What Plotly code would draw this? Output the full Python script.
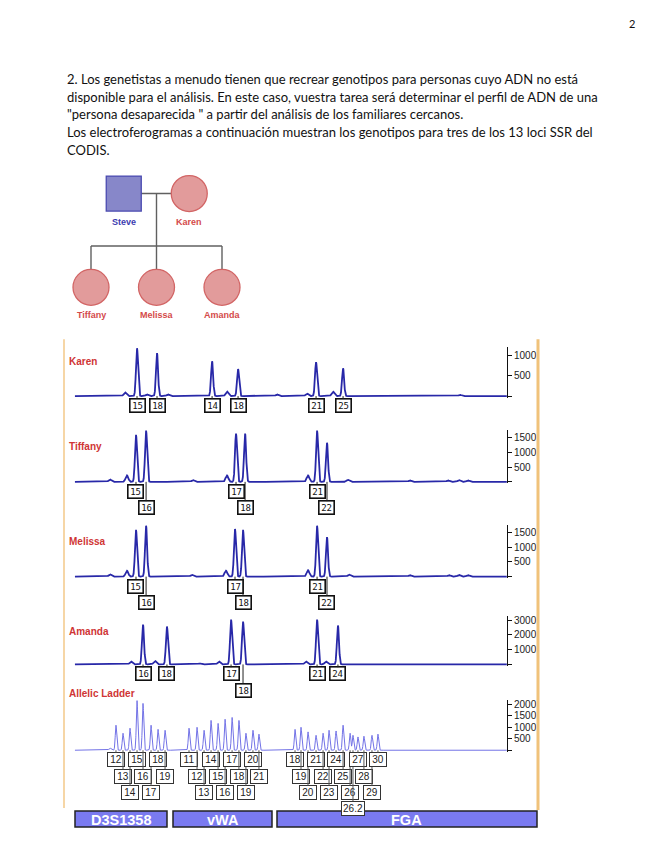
import numpy as np
import plotly.graph_objects as go

W, H = 655, 848

# ------------------------------------------------------------------ data
PAGE_NUMBER = "2"
PARAGRAPH = [
    "2. Los genetistas a menudo tienen que recrear genotipos para personas cuyo ADN no está",
    "disponible para el análisis. En este caso, vuestra tarea será determinar el perfil de ADN de una",
    "\"persona desaparecida \" a partir del análisis de los familiares cercanos.",
    "Los electroferogramas a continuación muestran los genotipos para tres de los 13 loci SSR del",
    "CODIS.",
]

PED_NAMES = ["Steve", "Karen", "Tiffany", "Melissa", "Amanda"]
PED_SEX = ["M", "F", "F", "F", "F"]
PED_GENERATION = [0, 0, 1, 1, 1]
PED_ORDER = [0.5, 1.5, 0.0, 1.0, 2.0]

LOCI = ["D3S1358", "vWA", "FGA"]

KAREN_ALLELES = ["15", "18", "14", "18", "21", "25"]
KAREN_SIZE_BP = [122.7, 134.4, 166.6, 181.8, 227.4, 243.2]
KAREN_RFU = [1170, 1050, 850, 660, 830, 680]
KAREN_MINOR_BP = [115.7, 128.5, 140.8, 175.3, 204.6, 222.1, 237.3, 311.6]
KAREN_MINOR_RFU = [90, 40, 40, 110, 40, 60, 110, 30]
KAREN_TICKS = [500, 1000]

TIFFANY_ALLELES = ["15", "16", "17", "18", "21", "22"]
TIFFANY_SIZE_BP = [122.1, 128.0, 180.6, 185.9, 228.0, 233.8]
TIFFANY_RFU = [1600, 1740, 1640, 1640, 1740, 1330]
TIFFANY_MINOR_BP = [106.9, 116.8, 155.4, 175.3, 222.7, 246.1, 282.3, 304.6, 311.0, 316.3]
TIFFANY_MINOR_RFU = [80, 220, 60, 220, 220, 70, 50, 50, 60, 50]
TIFFANY_TICKS = [500, 1000, 1500]

MELISSA_ALLELES = ["15", "16", "17", "18", "21", "22"]
MELISSA_SIZE_BP = [122.1, 128.0, 180.0, 184.7, 228.0, 233.8]
MELISSA_RFU = [1590, 1730, 1620, 1590, 1730, 1345]
MELISSA_MINOR_BP = [106.9, 116.8, 154.8, 174.7, 222.7, 246.7, 282.3, 305.2, 311.0, 316.3]
MELISSA_MINOR_RFU = [80, 200, 60, 200, 220, 70, 50, 50, 60, 50]
MELISSA_TICKS = [500, 1000, 1500]

AMANDA_ALLELES = ["16", "18", "17", "18", "21", "24"]
AMANDA_SIZE_BP = [126.2, 140.2, 177.7, 184.7, 228.0, 240.2]
AMANDA_RFU = [2700, 2570, 3040, 2900, 3040, 2640]
AMANDA_MINOR_BP = [119.2, 133.2, 159.5, 170.6, 221.5, 233.2]
AMANDA_MINOR_RFU = [200, 240, 70, 200, 200, 200]
AMANDA_TICKS = [1000, 2000, 3000]

LADDER_D3S1358_ALLELES = ["12", "13", "14", "15", "16", "17", "18", "19"]
LADDER_D3S1358_BP = [110.4, 114.5, 118.6, 122.7, 126.2, 130.9, 135.0, 139.1]
LADDER_D3S1358_RFU = [1090, 740, 960, 2170, 2040, 1090, 910, 870]

LADDER_VWA_ALLELES = ["11", "12", "13", "14", "15", "16", "17", "18", "19", "20", "21"]
LADDER_VWA_BP = [153.1, 157.8, 161.9, 166.0, 170.1, 174.2, 178.3, 182.3, 186.4, 190.5, 194.0]
LADDER_VWA_RFU = [960, 1000, 870, 1300, 1170, 1350, 1430, 1300, 740, 870, 700]

LADDER_FGA_ALLELES = ["18", "19", "20", "21", "22", "23", "24", "25", "26", "26.2",
                      "27", "28", "29", "30"]
LADDER_FGA_BP = [215.1, 218.6, 222.7, 227.4, 231.5, 235.0, 239.1, 243.2, 247.3, 249.0,
                 251.9, 255.4, 260.1, 263.6]
LADDER_FGA_RFU = [910, 1000, 800, 650, 740, 870, 840, 1090, 740, 650, 580, 610, 650, 700]

LADDER_MINOR_BP = [106.9, 282.3]
LADDER_MINOR_RFU = [90, 30]
LADDER_TICKS = [500, 1000, 1500, 2000]

# ------------------------------------------------------------------ helpers
FONT_TXT = "Lato"
FONT_SANS = "Liberation Sans"
RED = "#cf3535"

def py(px):
    return 1 - px / H

def px_x(px):
    return px / W

fig = go.Figure()
annotations = []
shapes = []

# page number + paragraph
annotations.append(dict(text=PAGE_NUMBER, x=px_x(632), y=py(22), xref="paper", yref="paper",
                        showarrow=False, xanchor="center", yanchor="middle",
                        font=dict(family=FONT_TXT, size=11, color="#111")))
line_y = [77, 95, 112, 130, 148]
for t, yy in zip(PARAGRAPH, line_y):
    annotations.append(dict(text=t, x=px_x(65), y=py(yy), xref="paper", yref="paper",
                            showarrow=False, xanchor="left", yanchor="middle",
                            font=dict(family=FONT_TXT, size=13, color="#111")))

# ------------------------------------------------------------------ pedigree
PX, PY = "x6", "y6"
fig.update_layout(
    xaxis6=dict(domain=[58.25 / W, 254.75 / W], range=[-0.5, 2.5], visible=False, anchor="y6"),
    yaxis6=dict(domain=[py(333), py(145)], range=[-0.5, 1.5], visible=False, anchor="x6"),
)
gen_y = [1 - g for g in PED_GENERATION]
parents = [i for i, g in enumerate(PED_GENERATION) if g == 0]
kids = [i for i, g in enumerate(PED_GENERATION) if g == 1]
bar_y = 0.44
mid = sum(PED_ORDER[i] for i in parents) / len(parents)
lx, ly = [], []
lx += [PED_ORDER[parents[0]], PED_ORDER[parents[1]], None]
ly += [1, 1, None]
lx += [mid, mid, None]
ly += [1, bar_y, None]
lx += [min(PED_ORDER[i] for i in kids), max(PED_ORDER[i] for i in kids), None]
ly += [bar_y, bar_y, None]
for i in kids:
    lx += [PED_ORDER[i], PED_ORDER[i], None]
    ly += [bar_y, 0, None]
fig.add_trace(go.Scatter(x=lx, y=ly, mode="lines", line=dict(color="#606060", width=1.4),
                         xaxis=PX, yaxis=PY, hoverinfo="skip", showlegend=False))
for i, name in enumerate(PED_NAMES):
    male = PED_SEX[i] == "M"
    fig.add_trace(go.Scatter(
        x=[PED_ORDER[i]], y=[gen_y[i]], mode="markers", xaxis=PX, yaxis=PY,
        hoverinfo="skip", showlegend=False,
        marker=dict(symbol="square" if male else "circle", size=35 if male else 36,
                    color="#8787c9" if male else "#e29b9b",
                    line=dict(color="#4a4ab0" if male else "#d26565", width=1.3))))
    annotations.append(dict(text="<b>%s</b>" % name, x=PED_ORDER[i], y=gen_y[i] - 0.30,
                            xref=PX, yref=PY, showarrow=False,
                            font=dict(family=FONT_SANS, size=9,
                                      color="#3c3cb0" if male else "#d44a4a")))

# ------------------------------------------------------------------ electropherograms
X_DOMAIN = [64 / W, 507 / W]
X_RANGE = [80.0, 339.07]
GRID = np.arange(86.4, 339.0, 0.04)

def curve(bp, rfu, sigma):
    y = np.zeros_like(GRID)
    for s, h in zip(bp, rfu):
        y += h * np.exp(-0.5 * ((GRID - s) / sigma) ** 2)
    return y

def sample_rows(bp):
    rows = []
    for k, s in enumerate(bp):
        if k > 0 and s - bp[k - 1] < 9 and rows[-1] == 0:
            rows.append(1)
        else:
            rows.append(0)
    return rows

def ladder_rows(alleles):
    rows, k = [], 0
    for a in alleles:
        if "." in a:
            rows.append(3)
        else:
            rows.append(k % 3)
            k += 1
    return rows

ladder_alleles = LADDER_D3S1358_ALLELES + LADDER_VWA_ALLELES + LADDER_FGA_ALLELES
ladder_bp = LADDER_D3S1358_BP + LADDER_VWA_BP + LADDER_FGA_BP
ladder_rfu = LADDER_D3S1358_RFU + LADDER_VWA_RFU + LADDER_FGA_RFU
ladder_row = (ladder_rows(LADDER_D3S1358_ALLELES) + ladder_rows(LADDER_VWA_ALLELES)
              + ladder_rows(LADDER_FGA_ALLELES))

panels = [
    dict(name="Karen", al=KAREN_ALLELES, bp=KAREN_SIZE_BP, rfu=KAREN_RFU,
         mbp=KAREN_MINOR_BP, mrfu=KAREN_MINOR_RFU, ticks=KAREN_TICKS, ladder=False),
    dict(name="Tiffany", al=TIFFANY_ALLELES, bp=TIFFANY_SIZE_BP, rfu=TIFFANY_RFU,
         mbp=TIFFANY_MINOR_BP, mrfu=TIFFANY_MINOR_RFU, ticks=TIFFANY_TICKS, ladder=False),
    dict(name="Melissa", al=MELISSA_ALLELES, bp=MELISSA_SIZE_BP, rfu=MELISSA_RFU,
         mbp=MELISSA_MINOR_BP, mrfu=MELISSA_MINOR_RFU, ticks=MELISSA_TICKS, ladder=False),
    dict(name="Amanda", al=AMANDA_ALLELES, bp=AMANDA_SIZE_BP, rfu=AMANDA_RFU,
         mbp=AMANDA_MINOR_BP, mrfu=AMANDA_MINOR_RFU, ticks=AMANDA_TICKS, ladder=False),
    dict(name="Allelic Ladder", al=ladder_alleles, bp=ladder_bp, rfu=ladder_rfu,
         mbp=LADDER_MINOR_BP, mrfu=LADDER_MINOR_RFU, ticks=LADDER_TICKS, ladder=True),
]
# (baseline px, axis top px, px per RFU, name label y px)
GEOM = [(395, 346, 0.041, 360), (481, 429, 0.0295, 446), (576, 524, 0.0295, 541),
        (664, 615, 0.0148, 631), (750, 700, 0.023, 693)]
ROW_OFFSET = [9.5, 26, 42.5, 58]

for i, (p, g) in enumerate(zip(panels, GEOM)):
    n = "" if i == 0 else str(i + 1)
    xk, yk = "x" + n, "y" + n
    base, top, ppu, name_y = g
    pad = 1.5
    fig.update_layout(**{
        "xaxis" + n: dict(domain=X_DOMAIN, range=X_RANGE, visible=False, anchor=yk),
        "yaxis" + n: dict(domain=[py(base + pad), py(top)], range=[-pad / ppu, (base - top) / ppu],
                          side="right", anchor=xk, showline=True, linecolor="#111", linewidth=1,
                          ticks="outside", ticklen=4, tickwidth=1, tickcolor="#111",
                          tickvals=[0] + p["ticks"], ticktext=[""] + [str(t) for t in p["ticks"]],
                          showgrid=False, zeroline=False,
                          tickfont=dict(family=FONT_SANS, size=10, color="#222")),
    })
    if p["ladder"]:
        y = curve(p["bp"], p["rfu"], 0.42) + curve(p["mbp"], p["mrfu"], 0.7)
        col, lw = "#7272e6", 1.0
        rows = ladder_row
    else:
        y = curve(p["bp"], p["rfu"], 0.6) + curve(p["mbp"], p["mrfu"], 0.8)
        col, lw = "#2828a8", 1.8
        rows = sample_rows(p["bp"])
    fig.add_trace(go.Scatter(x=GRID, y=y, mode="lines", line=dict(color=col, width=lw),
                             xaxis=xk, yaxis=yk, hoverinfo="skip", showlegend=False))
    annotations.append(dict(text="<b>%s</b>" % p["name"], x=px_x(67), y=py(name_y),
                            xref="paper", yref="paper", showarrow=False,
                            xanchor="left", yanchor="middle",
                            font=dict(family=FONT_SANS, size=10, color=RED)))
    for a, s, r in zip(p["al"], p["bp"], rows):
        if p["ladder"]:
            box = dict(bordercolor="#333", borderwidth=1, width=14 if "." not in a else 20,
                       height=10.5, font=dict(family=FONT_SANS, size=10, color="#222"),
                       arrowcolor="#555")
        else:
            box = dict(bordercolor="#111", borderwidth=1.6, width=12, height=10,
                       font=dict(family="DejaVu Sans Mono", size=9, color="#111"),
                       arrowcolor="#222")
        annotations.append(dict(text=a, x=s, y=0, xref=xk, yref=yk, showarrow=True,
                                arrowhead=0, arrowwidth=1, ax=0, ay=ROW_OFFSET[r],
                                standoff=0, borderpad=1, bgcolor="white", **box))

# panel frame
shapes.append(dict(type="line", xref="paper", yref="paper", x0=px_x(64), x1=px_x(64),
                   y0=py(338), y1=py(808), line=dict(color="#f6d6a6", width=2)))
shapes.append(dict(type="line", xref="paper", yref="paper", x0=px_x(538), x1=px_x(538),
                   y0=py(338), y1=py(810), line=dict(color="#f0c27a", width=3)))

# locus bars
LOCUS_PX = [(75, 167), (173, 272), (277, 537)]
for name, (a, b) in zip(LOCI, LOCUS_PX):
    shapes.append(dict(type="rect", xref="paper", yref="paper", x0=px_x(a), x1=px_x(b),
                       y0=py(827), y1=py(811), fillcolor="#7a7af0",
                       line=dict(color="#222", width=1.5), layer="above"))
    annotations.append(dict(text="<b>%s</b>" % name, x=px_x((a + b) / 2), y=py(819.5),
                            xref="paper", yref="paper", showarrow=False,
                            xanchor="center", yanchor="middle",
                            font=dict(family=FONT_SANS, size=14.5, color="white")))

fig.update_layout(width=W, height=H, autosize=False, margin=dict(l=0, r=0, t=0, b=0),
                  paper_bgcolor="white", plot_bgcolor="rgba(0,0,0,0)", showlegend=False,
                  annotations=annotations, shapes=shapes)

fig.write_html("out.html", config={"displayModeBar": False},
               post_script="document.body.style.margin='0';")
